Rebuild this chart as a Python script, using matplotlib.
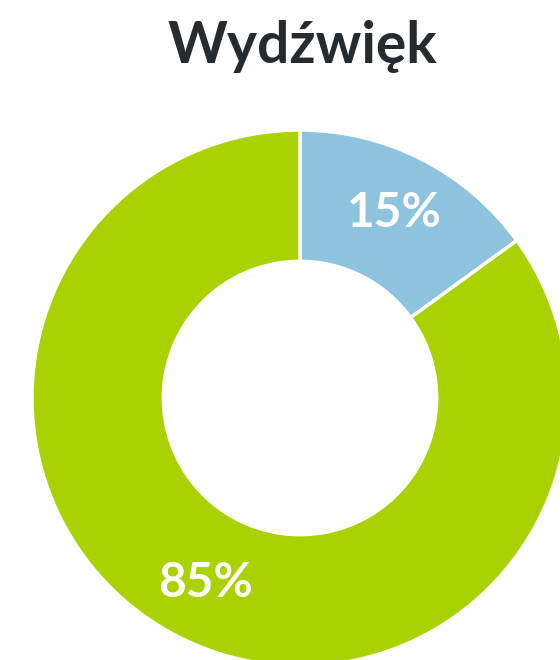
import matplotlib
matplotlib.use("Agg")
import matplotlib.pyplot as plt

# sentiment shares
labels = ["Negatywny", "Pozytywny"]
shares = [15, 85]
colors = ["#8EC3DE", "#A9D200"]
title = "Wydźwięk"

W, H = 560, 660
cx, cy, r = 300, 398, 268  # donut centre and outer radius in pixels

fig = plt.figure(figsize=(W / 100, H / 100), dpi=100)
ax = fig.add_axes([0, 0, 1, 1])
ax.axis('off')

wedges, texts, autotexts = ax.pie(
        shares, colors=colors, startangle=90, counterclock=False,
        radius=1, autopct='%1.0f%%', pctdistance=0.775,
        wedgeprops=dict(width=0.49, edgecolor='white', linewidth=2.5),
        textprops=dict(color='white', fontsize=34.5, fontweight='bold',
                       family='Lato')
    )
ax.set_xlim(-cx / r, (W - cx) / r)
ax.set_ylim(-(H - cy) / r, cy / r)
ax.set_aspect('auto')

fig.text(
        302 / W, 1 - 63 / H, title, ha='center', va='baseline',
        fontsize=41, fontweight='bold', family='Lato', color='#262B30'
    )

fig.savefig("out.png", dpi=100)
